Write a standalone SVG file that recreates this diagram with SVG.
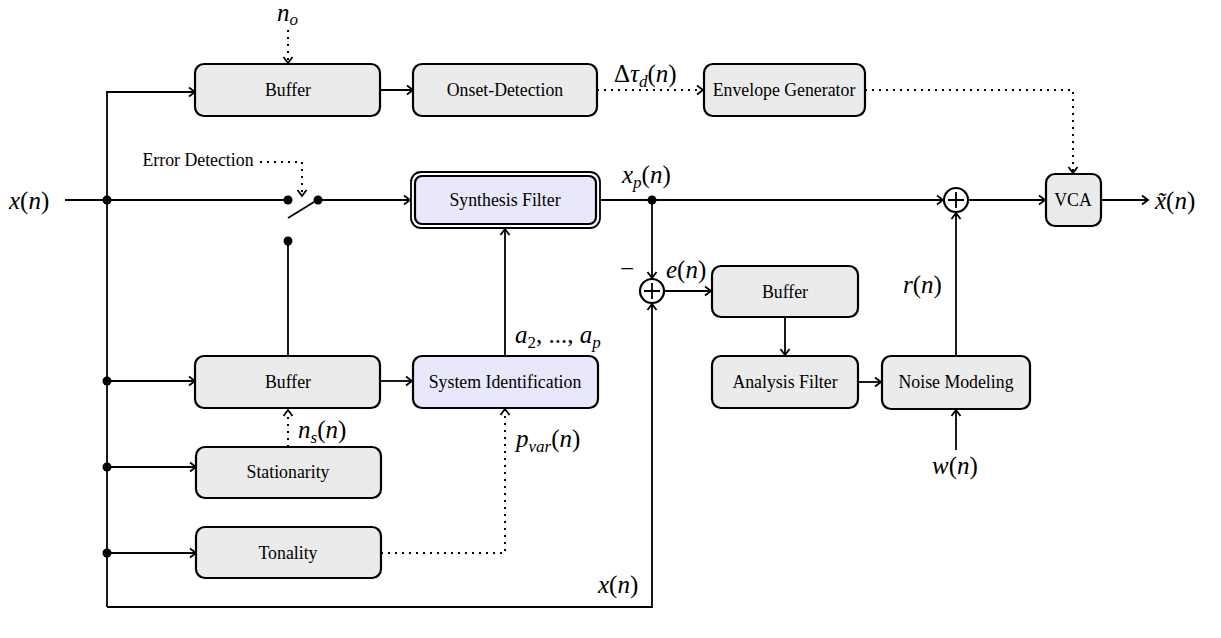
<svg xmlns="http://www.w3.org/2000/svg" width="1221" height="638" viewBox="0 0 1221 638">
<style>
.box{fill:#ebebeb;stroke:#000;stroke-width:2.2}
.blue{fill:#e8e8fa;stroke:#000;stroke-width:2.2}
text{font-family:"Liberation Serif","Times New Roman",serif}
.t{font-size:17.8px;text-anchor:middle;dominant-baseline:central}
.m{font-size:25px}
.i{font-style:italic}
.w{fill:none;stroke:#000;stroke-width:1.8}
.d{fill:none;stroke:#000;stroke-width:2;stroke-dasharray:2 5}
.dot{fill:#000}
</style>
<defs>
<marker id="a" markerUnits="userSpaceOnUse" markerWidth="12" markerHeight="12" refX="7" refY="5" orient="auto" overflow="visible">
<path d="M1,0.5 L7,5 L1,9.5" fill="none" stroke="#000" stroke-width="1.8"/>
</marker>
</defs>
<g id="connectors">
<path class="w" d="M65,200 H287"/>
<path class="w" d="M107,607 V92 H195" marker-end="url(#a)"/>
<path class="w" d="M107,381 H195" marker-end="url(#a)"/>
<path class="w" d="M107,467 H196" marker-end="url(#a)"/>
<path class="w" d="M107,553 H196" marker-end="url(#a)"/>
<path class="w" d="M107,607 H652 V304" marker-end="url(#a)"/>
<path class="w" d="M380,90 H413" marker-end="url(#a)"/>
<path class="d" d="M597,90 H703" marker-end="url(#a)"/>
<path class="d" d="M865,90 H1073 V173" marker-end="url(#a)"/>
<path class="d" d="M288,30 V63" marker-end="url(#a)"/>
<path class="d" d="M260,162 H302 V196" marker-end="url(#a)"/>
<path class="w" d="M288,218 L314,202"/>
<path class="w" d="M318,200 H410" marker-end="url(#a)"/>
<path class="w" d="M288,241 V356"/>
<path class="w" d="M600,200 H943" marker-end="url(#a)"/>
<path class="w" d="M652,200 V278" marker-end="url(#a)"/>
<path class="w" d="M664,291 H711" marker-end="url(#a)"/>
<path class="w" d="M785,317 V355" marker-end="url(#a)"/>
<path class="w" d="M858,382 H881" marker-end="url(#a)"/>
<path class="w" d="M956,356 V213" marker-end="url(#a)"/>
<path class="w" d="M956,450 V410" marker-end="url(#a)"/>
<path class="w" d="M968,200 H1045" marker-end="url(#a)"/>
<path class="w" d="M1101,200 H1148" marker-end="url(#a)"/>
<path class="w" d="M380,381 H412" marker-end="url(#a)"/>
<path class="w" d="M505,356 V229" marker-end="url(#a)"/>
<path class="d" d="M381,553 H505 V409" marker-end="url(#a)"/>
<path class="d" d="M288,447 V410" marker-end="url(#a)"/>
<circle class="dot" cx="107" cy="200" r="4.5"/>
<circle class="dot" cx="107" cy="381" r="4.5"/>
<circle class="dot" cx="107" cy="467" r="4.5"/>
<circle class="dot" cx="107" cy="553" r="4.5"/>
<circle class="dot" cx="288" cy="200" r="4.5"/>
<circle class="dot" cx="318" cy="200" r="4.5"/>
<circle class="dot" cx="288" cy="241" r="4.5"/>
<circle class="dot" cx="652" cy="200" r="4.5"/>
</g>
<g id="buffer-top"><rect class="box" x="195" y="64" width="185" height="52" rx="9"/><text class="t" x="288" y="90">Buffer</text></g>
<g id="onset"><rect class="box" x="413" y="64" width="184" height="52" rx="9"/><text class="t" x="505" y="90">Onset-Detection</text></g>
<g id="envelope"><rect class="box" x="704" y="64" width="161" height="52" rx="9"/><text class="t" x="784" y="90">Envelope Generator</text></g>
<g id="vca"><rect class="box" x="1046" y="174" width="55" height="52" rx="9"/><text class="t" x="1073" y="200">VCA</text></g>
<g id="synthesis"><rect x="411" y="172" width="189" height="56" rx="10" fill="#fff" stroke="#000" stroke-width="1.8"/><rect class="blue" x="415" y="176" width="181" height="48" rx="7" stroke-width="1.8"/><text class="t" x="505" y="200">Synthesis Filter</text></g>
<g id="buffer-mid"><rect class="box" x="195" y="356" width="185" height="52" rx="9"/><text class="t" x="288" y="382">Buffer</text></g>
<g id="sysid"><rect class="blue" x="413" y="356" width="185" height="52" rx="9"/><text class="t" x="505" y="382">System Identification</text></g>
<g id="stationarity"><rect class="box" x="196" y="447" width="185" height="51" rx="9"/><text class="t" x="288" y="472">Stationarity</text></g>
<g id="tonality"><rect class="box" x="196" y="527" width="185" height="51" rx="9"/><text class="t" x="288" y="553">Tonality</text></g>
<g id="buffer-err"><rect class="box" x="712" y="266" width="146" height="51" rx="9"/><text class="t" x="785" y="292">Buffer</text></g>
<g id="analysis"><rect class="box" x="712" y="356" width="146" height="52" rx="9"/><text class="t" x="785" y="382">Analysis Filter</text></g>
<g id="noise"><rect class="box" x="882" y="356" width="148" height="53" rx="9"/><text class="t" x="956" y="382">Noise Modeling</text></g>
<g id="sum-top"><circle cx="956" cy="200" r="12" fill="#fff" stroke="#000" stroke-width="2.2"/><path class="w" d="M956,192 V208 M948,200 H964" stroke-width="1.2"/></g>
<g id="sum-err"><circle cx="652" cy="291" r="12" fill="#fff" stroke="#000" stroke-width="2.2"/><path class="w" d="M652,283 V299 M644,291 H660" stroke-width="1.2"/></g>
<g id="labels">
<text class="t" x="198" y="160">Error Detection</text>
<text class="m" x="9" y="209"><tspan class="i">x</tspan>(<tspan class="i">n</tspan>)</text>
<text class="m" x="277" y="21"><tspan class="i">n</tspan><tspan class="i" font-size="17" dy="4">o</tspan></text>
<text class="m" x="614" y="82">Δ<tspan class="i">τ</tspan><tspan class="i" font-size="17" dy="5">d</tspan><tspan dy="-5">(</tspan><tspan class="i">n</tspan>)</text>
<text class="m" x="622" y="183"><tspan class="i">x</tspan><tspan class="i" font-size="17" dy="5">p</tspan><tspan dy="-5">(</tspan><tspan class="i">n</tspan>)</text>
<text class="m" x="1155" y="209"><tspan class="i">x̃</tspan>(<tspan class="i">n</tspan>)</text>
<text class="m" x="620" y="277">−</text>
<text class="m" x="666" y="278"><tspan class="i">e</tspan>(<tspan class="i">n</tspan>)</text>
<text class="m" x="903" y="293"><tspan class="i">r</tspan>(<tspan class="i">n</tspan>)</text>
<text class="m" x="515" y="343"><tspan class="i">a</tspan><tspan font-size="17" dy="5">2</tspan><tspan dy="-5">, ..., </tspan><tspan class="i">a</tspan><tspan class="i" font-size="17" dy="5">p</tspan></text>
<text class="m" x="298" y="438"><tspan class="i">n</tspan><tspan class="i" font-size="17" dy="5">s</tspan><tspan dy="-5">(</tspan><tspan class="i">n</tspan>)</text>
<text class="m" x="516" y="447"><tspan class="i">p</tspan><tspan class="i" font-size="17" dy="5">var</tspan><tspan dy="-5">(</tspan><tspan class="i">n</tspan>)</text>
<text class="m" x="932" y="474"><tspan class="i">w</tspan>(<tspan class="i">n</tspan>)</text>
<text class="m" x="598" y="593"><tspan class="i">x</tspan>(<tspan class="i">n</tspan>)</text>
</g>
</svg>
